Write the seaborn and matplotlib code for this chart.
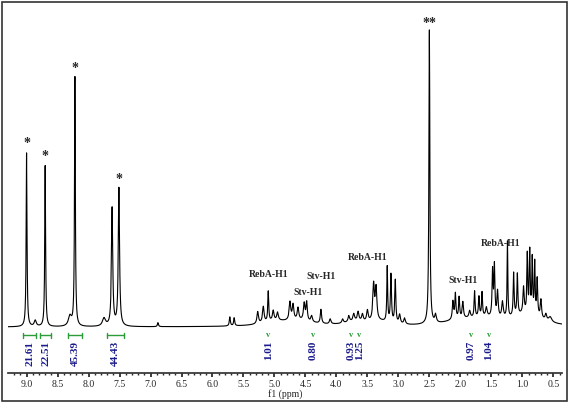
import numpy as np
import matplotlib
matplotlib.use("Agg")
import matplotlib.pyplot as plt
import seaborn as sns
import pandas as pd

sns.set_theme(style="white")
plt.rcParams['font.family'] = ['Liberation Serif', 'DejaVu Serif']

# peak list: position (ppm), height, half-width (ppm)
peak_pos = [9.00, 8.70, 8.86, 8.30, 8.22, 7.75, 7.62, 7.51, 6.88,
            5.72, 5.65, 5.27, 5.18, 5.10, 5.02, 4.95, 4.75, 4.70, 4.62, 4.52, 4.48, 4.40, 4.25, 4.10,
            3.90, 3.80, 3.72, 3.65, 3.58, 3.50, 3.40, 3.36, 3.18, 3.12, 3.05, 2.98, 2.90,
            2.50, 2.40, 2.12, 2.08, 2.02, 1.96, 1.85, 1.77, 1.70, 1.65, 1.58, 1.48, 1.45, 1.40, 1.32,
            1.24, 1.14, 1.08, 0.98, 0.92, 0.88, 0.84, 0.80, 0.76, 0.70, 0.62, 0.55,
            5.0, 4.6, 3.7, 3.3, 2.0, 1.6, 1.0, 0.85]
peak_h = [174, 161, 6, 10, 249, 8, 118, 138, 4,
          9, 8, 12, 16, 30, 10, 8, 18, 15, 12, 17, 18, 6, 14, 5,
          4, 6, 7, 9, 7, 11, 36, 32, 55, 48, 43, 9, 6,
          294, 8, 18, 25, 21, 16, 7, 26, 20, 24, 9, 46, 50, 26, 16,
          76, 43, 41, 26, 58, 61, 54, 51, 36, 18, 6, 5,
          4, 5, 4, 4, 5, 6, 7, 6]
peak_w = [0.008, 0.008, 0.02, 0.03, 0.008, 0.03, 0.012, 0.012, 0.01,
          0.01, 0.01, 0.015, 0.015, 0.009, 0.015, 0.015, 0.015, 0.015, 0.015, 0.015, 0.012, 0.015, 0.012, 0.015,
          0.015, 0.015, 0.015, 0.015, 0.015, 0.015, 0.015, 0.015, 0.008, 0.01, 0.01, 0.015, 0.015,
          0.009, 0.015, 0.012, 0.01, 0.01, 0.012, 0.015, 0.009, 0.01, 0.009, 0.015, 0.01, 0.009, 0.012, 0.015,
          0.007, 0.009, 0.009, 0.012, 0.008, 0.008, 0.008, 0.008, 0.009, 0.012, 0.015, 0.03,
          0.25, 0.3, 0.2, 0.2, 0.3, 0.3, 0.3, 0.2]

stars = [(9.00, 174, "*"), (8.70, 161, "*"), (8.22, 249, "*"), (7.51, 138, "*"), (2.50, 294, "**")]
labels = [(5.10, 48, "RebA-H1"), (4.45, 30, "Stv-H1"), (4.25, 46, "Stv-H1"),
          (3.50, 65, "RebA-H1"), (1.95, 42, "Stv-H1"), (1.35, 79, "RebA-H1")]
integ_pos = [8.95, 8.69, 8.22, 7.57, 5.10, 4.38, 3.76, 3.63, 1.83, 1.54]
integ_val = ["21.61", "22.51", "45.39", "44.43", "1.01", "0.80", "0.93", "1.25", "0.97", "1.04"]
integ_span = [(9.05, 8.85), (8.78, 8.60), (8.33, 8.10), (7.70, 7.43), None, None, None, None, None, None]

x = np.linspace(0.3, 9.4, 12000)
y = np.zeros_like(x)
for p, h, w in zip(peak_pos, peak_h, peak_w):
    y += h * w**2 / ((x - p)**2 + w**2)
df = pd.DataFrame({"ppm": x, "I": y})

fig = plt.figure(figsize=(5.69, 4.03), dpi=100)
ax = fig.add_axes([8/569, 30/403, 554/569, 363/403])
sns.lineplot(data=df, x="ppm", y="I", ax=ax, color="black", lw=0.8)
ax.set_xlim(9.3, 0.36)
ax.set_ylim(-46, 317)
for s in ["top", "left", "right"]:
    ax.spines[s].set_visible(False)
ax.spines["bottom"].set_color("#333")
ax.set_yticks([])
ax.set_ylabel("")
ax.set_xticks(np.arange(9.0, 0.4, -0.5))
ax.set_xticklabels([f"{v:.1f}" for v in np.arange(9.0, 0.4, -0.5)], fontsize=7)
ax.set_xticks(np.arange(9.2, 0.35, -0.1), minor=True)
ax.tick_params(axis="x", which="major", bottom=True, length=3, pad=2, direction="out")
ax.tick_params(axis="x", which="minor", bottom=True, length=1.5, direction="out")
ax.set_xlabel("f1 (ppm)", fontsize=7, labelpad=0)

for p, h, t in stars:
    ax.text(p, h + 3, t, ha="center", va="bottom", fontsize=10, fontweight="bold")
for p, h, t in labels:
    ax.text(p, h, t, ha="center", va="bottom", fontsize=7, fontweight="bold")
for p, v, sp in zip(integ_pos, integ_val, integ_span):
    if sp:
        ax.plot(sp, [-8, -8], color="#2a9d3a", lw=1)
        for e in sp:
            ax.plot([e, e], [-10.5, -5.5], color="#2a9d3a", lw=1)
    else:
        ax.text(p, -8, "v", ha="center", va="center", fontsize=6, color="#2a9d3a", fontweight="bold")
    ax.text(p, -14, v, rotation=90, ha="center", va="top", fontsize=8, color="#1a1a8c", fontweight="bold")

fig.patches.append(plt.Rectangle((0.003, 0.004), 0.994, 0.992, transform=fig.transFigure,
                                 fill=False, edgecolor="#333", lw=1.2))
fig.savefig("out.png", dpi=100)
